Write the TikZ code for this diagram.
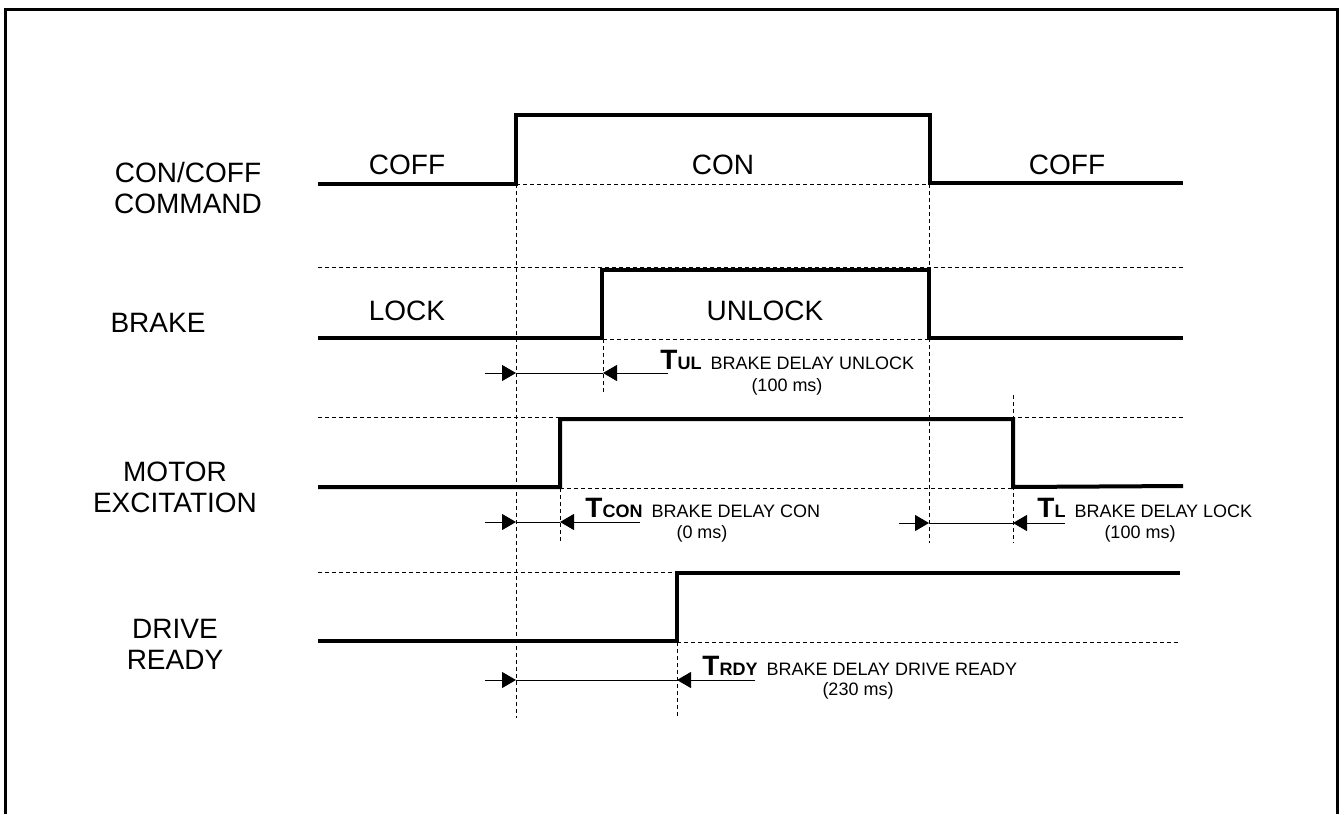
\documentclass[tikz,border=0pt]{standalone}
\usepackage{fontspec}
\setmainfont{Liberation Sans}
\usetikzlibrary{arrows.meta}

\begin{document}
\begin{tikzpicture}[x=0.5pt, y=-0.5pt,
  signal/.style={line width=2pt, line join=miter},
  guide/.style={line width=0.5pt, dash pattern=on 2pt off 1.5pt},
  dim/.style={line width=0.5pt},
  tip/.style={-{Triangle[length=7pt,width=8pt]}},
  signame/.style={font=\fontsize{14}{15.5}\selectfont, align=center, inner sep=0pt},
  state/.style={font=\fontsize{14}{15.5}\selectfont, inner sep=0pt, anchor=base},
  note/.style={font=\fontsize{9}{10}\selectfont, inner sep=0pt}]
\useasboundingbox (0,0) rectangle (1344,814);
\draw[line width=1.5pt] (5.5,814) -- (5.5,9) -- (1337,9) -- (1337,814);

% guide lines
\draw[guide] (516,184) -- (516,718);
\draw[guide] (929,184) -- (929,543);
\draw[guide] (516,184) -- (929,184);
\draw[guide] (318,267) -- (1183,267);
\draw[guide] (603,339) -- (929,339);
\draw[guide] (603,339) -- (603,395);
\draw[guide] (318,417) -- (1183,417);
\draw[guide] (560,488) -- (1013,488);
\draw[guide] (560,488) -- (560,543);
\draw[guide] (1013,395) -- (1013,543);
\draw[guide] (318,572) -- (677,572);
\draw[guide] (677,642) -- (1180,642);
\draw[guide] (677,642) -- (677,718);

% signals
\draw[signal] (318,184) -- (516,184) -- (516,115) -- (930,115) -- (930,183) -- (1183,183);
\draw[signal] (318,338) -- (602,338) -- (602,270) -- (929,270) -- (929,338) -- (1183,338);
\draw[signal] (318,487) -- (560,487) -- (560,419) -- (1013,419) -- (1013,487) -- (1183,486);
\draw[signal] (318,641) -- (677,641) -- (677,573) -- (1180,573);

\node[signame] (cmd) at (188,188) {CON/COFF\\COMMAND};
\node[signame] (brk) at (158,323) {BRAKE};
\node[signame] (mot) at (175,487) {MOTOR\\EXCITATION};
\node[signame] (rdy) at (175,644) {DRIVE\\READY};

\node[state] (coff1) at (407,174) {COFF};
\node[state] (con) at (723,174) {CON};
\node[state] (coff2) at (1067,174) {COFF};
\node[state] (lock) at (407,320) {LOCK};
\node[state] (unlock) at (765,320) {UNLOCK};

% delays
\foreach \n/\y/\a/\b/\l/\r in {ul/373/516/603/485/668, con/522/516/560/485/640,
    l/523/929/1013/899/1065, rdy/680/516/677/485/755} {
  \coordinate (\n-l) at (\l,\y);
  \coordinate (\n-a) at (\a,\y);
  \coordinate (\n-b) at (\b,\y);
  \coordinate (\n-r) at (\r,\y);
  \draw[dim,tip] (\n-l) -- (\n-a);
  \draw[dim] (\n-a) -- (\n-b);
  \draw[dim,tip] (\n-r) -- (\n-b);
}

\node[note, anchor=base west] (tul) at (660,369)
  {{\fontsize{14}{14}\selectfont\bfseries T}{\bfseries UL}\enspace BRAKE DELAY UNLOCK};
\node[note, anchor=base] (tul-v) at (787,391) {(100 ms)};
\node[note, anchor=base west] (tcon) at (585,517)
  {{\fontsize{14}{14}\selectfont\bfseries T}{\bfseries CON}\enspace BRAKE DELAY CON};
\node[note, anchor=base] (tcon-v) at (702,538) {(0 ms)};
\node[note, anchor=base west] (tl) at (1037,517)
  {{\fontsize{14}{14}\selectfont\bfseries T}{\bfseries L}\enspace BRAKE DELAY LOCK};
\node[note, anchor=base] (tl-v) at (1140,538) {(100 ms)};
\node[note, anchor=base west] (trdy) at (702,675)
  {{\fontsize{14}{14}\selectfont\bfseries T}{\bfseries RDY}\enspace BRAKE DELAY DRIVE READY};
\node[note, anchor=base] (trdy-v) at (858,695) {(230 ms)};
\end{tikzpicture}
\end{document}
